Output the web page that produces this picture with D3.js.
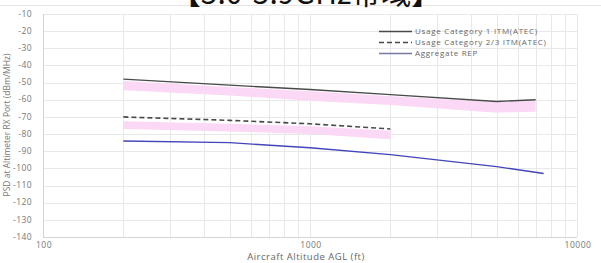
<!DOCTYPE html>
<html>
<head>
<meta charset="utf-8">
<style>
  body { margin: 0; background: #fff; }
  svg { display: block; font-family: "Open Sans", "Noto Sans", sans-serif; }
</style>
</head>
<body>
<div id="chart"></div>
<script src="https://d3js.org/d3.v7.min.js"></script>
<script>
// data
var titleText = "【5.0-5.9GHz帯域】";
var xTicks = [100, 1000, 10000];
var yTicks = [-10, -20, -30, -40, -50, -60, -70, -80, -90, -100, -110, -120, -130, -140];

var alt1 = [200, 500, 1000, 2000, 5000, 7000];
var cat1 = [-48, -51.5, -54, -57, -61, -60];
var cat1Upper = [-49, -52.5, -55, -58, -61.5, -60.5];
var cat1Lower = [-54.5, -57.5, -60.5, -63, -67.5, -67];

var alt23 = [200, 500, 1000, 2000];
var cat23 = [-70, -72, -74, -77];
var cat23Upper = [-72.5, -74, -75.5, -78];
var cat23Lower = [-77, -78.5, -80, -83];

var altRep = [200, 500, 1000, 2000, 5000, 7500];
var rep = [-84, -85, -88, -92, -99, -103];

var legendNames = ["Usage Category 1 ITM(ATEC)", "Usage Category 2/3 ITM(ATEC)", "Aggregate REP"];

var W = 601, H = 263;
var svg = d3.select("#chart").append("svg").attr("width", W).attr("height", H);

var x = d3.scaleLog().domain([100, 10000]).range([43, 577]);
var y = d3.scaleLinear().domain([-140, -10]).range([237, 14]);

// faint line under the clipped title
svg.append("line").attr("x1", 0).attr("x2", W).attr("y1", 5.5).attr("y2", 5.5)
    .attr("stroke", "#e4e4e4");

// title is cut off by the top edge in the reference too
svg.append("text")
    .attr("x", 306).attr("y", 4)
    .attr("text-anchor", "middle")
    .style("font-family", "'Noto Sans CJK JP', sans-serif")
    .style("font-size", "30px")
    .attr("fill", "#111")
    .text(titleText);

// grid
var minor = [];
[100, 1000].forEach(function(d) { for (var k = 1; k <= 9; k++) minor.push(d * k); });
minor.push(10000);
svg.append("g").selectAll("line").data(minor).enter().append("line")
    .attr("x1", function(d) { return Math.round(x(d)) + 0.5; })
    .attr("x2", function(d) { return Math.round(x(d)) + 0.5; })
    .attr("y1", y(-10)).attr("y2", y(-140))
    .attr("stroke", "#e8e8e8");
svg.append("g").selectAll("line").data(yTicks).enter().append("line")
    .attr("x1", x(100)).attr("x2", x(10000))
    .attr("y1", function(d) { return Math.round(y(d)) + 0.5; })
    .attr("y2", function(d) { return Math.round(y(d)) + 0.5; })
    .attr("stroke", "#e8e8e8");

// axes lines
svg.append("line").attr("x1", x(100) + 0.5).attr("x2", x(100) + 0.5)
    .attr("y1", y(-10)).attr("y2", y(-140)).attr("stroke", "#d4d4d4");
svg.append("line").attr("x1", x(100)).attr("x2", x(10000))
    .attr("y1", Math.round(y(-140)) + 0.5).attr("y2", Math.round(y(-140)) + 0.5)
    .attr("stroke", "#d4d4d4");

// tick labels
svg.append("g").selectAll("text").data(yTicks).enter().append("text")
    .attr("x", 32).attr("y", function(d) { return y(d); })
    .attr("dy", "0.32em")
    .attr("text-anchor", "end")
    .style("font-size", "8.5px")
    .style("letter-spacing", "0.4px")
    .attr("fill", "#777")
    .text(function(d) { return d; });

svg.append("g").selectAll("text").data(xTicks).enter().append("text")
    .attr("x", function(d) { return x(d) + 1; }).attr("y", 248)
    .attr("text-anchor", "middle")
    .style("font-size", "8.5px")
    .style("letter-spacing", "0.5px")
    .attr("fill", "#777")
    .text(function(d) { return d; });

svg.append("text")
    .attr("x", 306).attr("y", 260)
    .attr("text-anchor", "middle")
    .style("font-size", "9.5px")
    .style("letter-spacing", "0.5px")
    .attr("fill", "#666")
    .text("Aircraft Altitude AGL (ft)");

svg.append("text")
    .attr("transform", "translate(10,125) rotate(-90)")
    .attr("text-anchor", "middle")
    .style("font-size", "8.5px")
    .attr("fill", "#777")
    .text("PSD at Altimeter RX Port (dBm/MHz)");

// pink bands
function bandRows(alts, up, lo) {
  return alts.map(function(a, i) { return {a: a, u: up[i], l: lo[i]}; });
}
var area = d3.area()
    .x(function(d) { return x(d.a); })
    .y0(function(d) { return y(d.l); })
    .y1(function(d) { return y(d.u); });

svg.append("path").datum(bandRows(alt1, cat1Upper, cat1Lower))
    .attr("d", area).attr("fill", "#fbd8f6");
svg.append("path").datum(bandRows(alt23, cat23Upper, cat23Lower))
    .attr("d", area).attr("fill", "#fbd8f6");

// lines
function rows(alts, vals) { return alts.map(function(a, i) { return [a, vals[i]]; }); }
var line = d3.line()
    .x(function(d) { return x(d[0]); })
    .y(function(d) { return y(d[1]); });

svg.append("path").datum(rows(alt1, cat1))
    .attr("d", line).attr("fill", "none")
    .attr("stroke", "#4a4a4a").attr("stroke-width", 1.3);
svg.append("path").datum(rows(alt23, cat23))
    .attr("d", line).attr("fill", "none")
    .attr("stroke", "#4a4a4a").attr("stroke-width", 1.6)
    .attr("stroke-dasharray", "5,3");
svg.append("path").datum(rows(altRep, rep))
    .attr("d", line).attr("fill", "none")
    .attr("stroke", "#4444bb").attr("stroke-width", 1.4);

// legend
var legendStyles = [
  {stroke: "#4a4a4a", dash: null, w: 1.3},
  {stroke: "#4a4a4a", dash: "5,3", w: 1.6},
  {stroke: "#7878a8", dash: null, w: 1.4}
];
var lg = svg.append("g").selectAll("g").data(legendNames).enter().append("g")
    .attr("transform", function(d, i) { return "translate(379," + (31.5 + i * 11) + ")"; });
lg.append("line")
    .attr("x1", 0).attr("x2", 33).attr("y1", 0).attr("y2", 0)
    .attr("stroke", function(d, i) { return legendStyles[i].stroke; })
    .attr("stroke-width", function(d, i) { return legendStyles[i].w; })
    .attr("stroke-dasharray", function(d, i) { return legendStyles[i].dash; });
lg.append("text")
    .attr("x", 36).attr("y", 0).attr("dy", "0.32em")
    .style("font-size", "8px")
    .style("letter-spacing", "0.7px")
    .attr("fill", "#666")
    .text(function(d) { return d; });
</script>
</body>
</html>
